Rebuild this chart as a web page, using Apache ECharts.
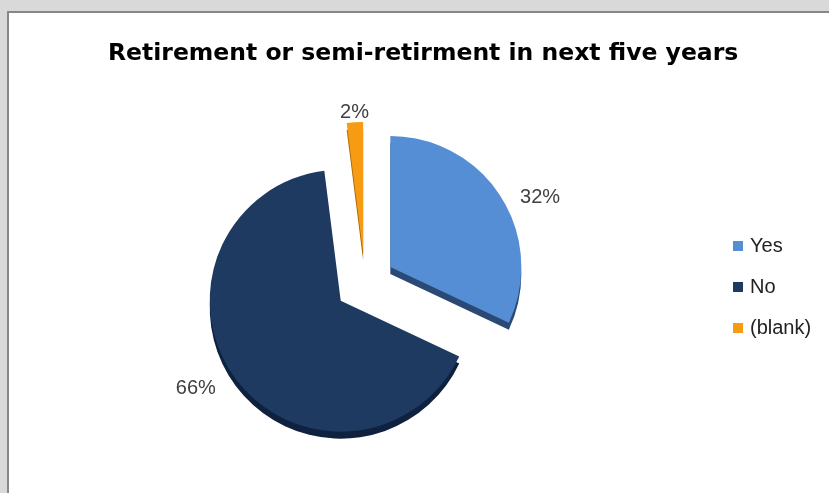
<!DOCTYPE html>
<html>
<head>
<meta charset="utf-8">
<script src="https://cdn.jsdelivr.net/npm/echarts@6/dist/echarts.min.js"></script>
<style>
html,body{margin:0;padding:0;background:#D9D9D9;}
#chart{width:829px;height:493px;}
</style>
</head>
<body>
<div id="chart"></div>
<script>
const titleText = 'Retirement or semi-retirment in next five years';
const categories = ['Yes', 'No', '(blank)'];
const values = [32, 66, 2];
const colors = ['#558ED5', '#1F3A60', '#F79B13'];
const sideColors = ['#2A4A75', '#0E2240', '#A96400'];

const chart = echarts.init(document.getElementById('chart'), null, {renderer: 'canvas'});

function makeData(cols) {
  return categories.map((c, i) => ({
    name: c,
    value: values[i],
    selected: true,
    itemStyle: {color: cols[i]}
  }));
}

const common = {
  type: 'pie',
  radius: 131,
  startAngle: 90,
  clockwise: true,
  selectedMode: 'multiple',
  selectedOffset: 30,
  avoidLabelOverlap: false,
  animation: false,
  emphasis: {disabled: true},
  itemStyle: {borderWidth: 0}
};

chart.setOption({
  backgroundColor: '#D9D9D9',
  animation: false,
  graphic: [{
    type: 'rect',
    z: -10,
    shape: {x: 8, y: 12, width: 840, height: 500},
    style: {fill: '#FFFFFF', stroke: '#878787', lineWidth: 2}
  }],
  title: {
    text: titleText,
    left: 103,
    top: 37,
    textStyle: {fontFamily: 'DejaVu Sans', fontWeight: 'bold', fontSize: 23.5, color: '#000000'}
  },
  legend: {
    orient: 'vertical',
    left: 728,
    top: 231,
    icon: 'rect',
    itemWidth: 10,
    itemHeight: 10,
    itemGap: 21,
    selectedMode: false,
    data: categories,
    textStyle: {fontFamily: 'Liberation Sans', fontSize: 20, color: '#222222', padding: [0, 0, 0, 2]}
  },
  series: [
    Object.assign({}, common, {
      name: 'top',
      z: 3,
      center: [365, 283],
      data: makeData(colors),
      label: {
        show: true,
        position: 'outside',
        formatter: '{c}%',
        fontFamily: 'Liberation Sans',
        fontSize: 20,
        color: '#404040'
      },
      labelLine: {show: false, length: 6, length2: 9},
      labelLayout: function (p) {
        if (p.dataIndex === 2) return {dx: p.labelRect.width / 2 + 14, dy: -4};
        if (p.dataIndex === 1) return {dy: 7};
        if (p.dataIndex === 0) return {dy: 4};
        return {};
      }
    }),
    Object.assign({}, common, {
      name: 'depth',
      z: 1,
      silent: true,
      center: [365, 290],
      data: makeData(sideColors),
      label: {show: false},
      labelLine: {show: false}
    })
  ]
});
</script>
</body>
</html>
